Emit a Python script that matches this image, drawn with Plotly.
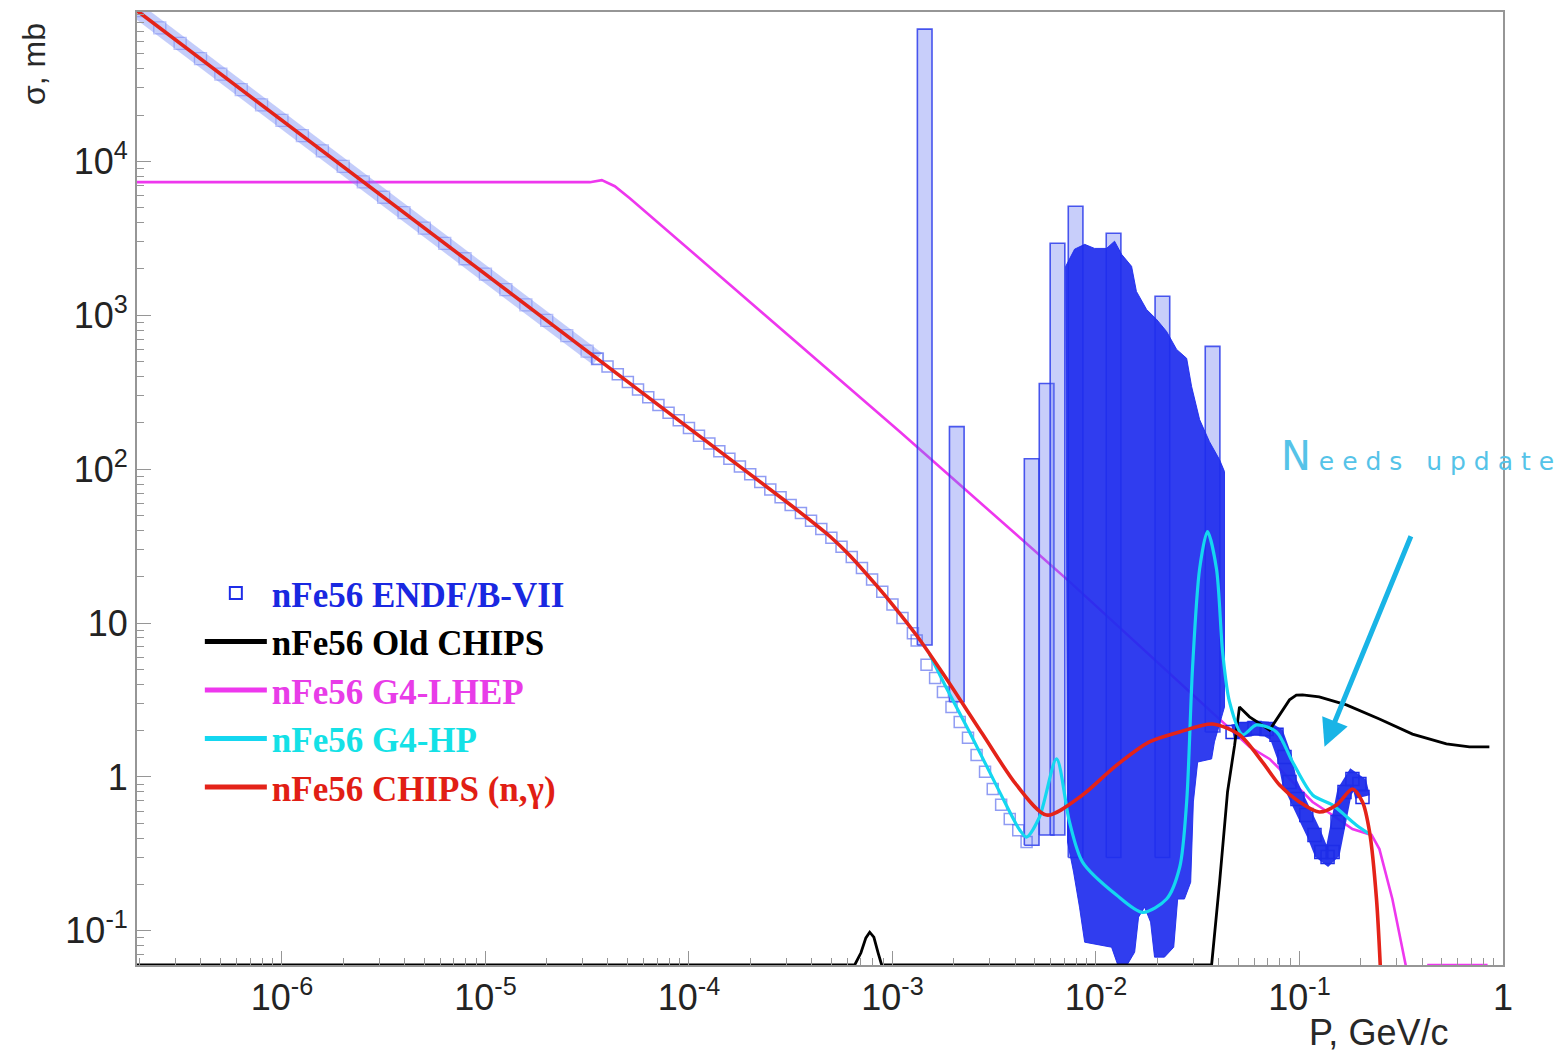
import math
import plotly.graph_objects as go

# ---------------- data ----------------
# momentum P [GeV/c], cross section sigma [mb]

# ENDF/B-VII : smooth 1/v region (dense band of points)
endf_band_p = [1.94e-7, 2.51e-7, 3.16e-7, 3.98e-7, 5.01e-7, 6.31e-7, 7.94e-7, 1.0e-6,
               1.26e-6, 1.58e-6, 2.0e-6, 2.51e-6, 3.16e-6, 3.98e-6, 5.01e-6, 6.31e-6,
               7.94e-6, 1.0e-5, 1.26e-5, 1.58e-5, 2.0e-5, 2.51e-5, 3.16e-5]
endf_band_s = [95400, 73700, 58500, 46500, 36900, 29300, 23300, 18500,
               14700, 11700, 9270, 7370, 5850, 4650, 3690, 2930,
               2330, 1850, 1470, 1170, 927, 737, 585]

# ENDF/B-VII : chain of separate points down to the first minimum
endf_chain_p = [3.55e-5, 3.98e-5, 4.47e-5, 5.01e-5, 5.62e-5, 6.31e-5, 7.08e-5, 7.94e-5,
                8.91e-5, 1.0e-4, 1.12e-4, 1.26e-4, 1.41e-4, 1.58e-4, 1.78e-4, 2.0e-4,
                2.24e-4, 2.51e-4, 2.82e-4, 3.16e-4, 3.55e-4, 3.98e-4, 4.47e-4, 5.01e-4,
                5.62e-4, 6.31e-4, 7.08e-4, 7.94e-4, 8.91e-4, 1.0e-3, 1.12e-3, 1.26e-3,
                1.315e-3, 1.47e-3, 1.62e-3, 1.77e-3, 1.95e-3, 2.14e-3, 2.35e-3, 2.59e-3,
                2.85e-3, 3.11e-3, 3.42e-3, 3.77e-3, 4.15e-3, 4.56e-3]
endf_chain_s = [521, 465, 414, 369, 329, 293, 261, 233,
                208, 185, 165, 147, 131, 117, 104, 92.7,
                82.6, 73.7, 65.6, 58.5, 52.0, 46.2, 40.8, 35.8,
                31.3, 26.9, 22.8, 19.2, 16.0, 13.2, 10.8, 8.6,
                7.7, 5.36, 4.4, 3.57, 2.85, 2.28, 1.8, 1.39,
                1.08, 0.835, 0.66, 0.533, 0.45, 0.378]

# ENDF/B-VII : isolated resonance columns (centre, bottom, top)
col_p = [1.44e-3, 2.07e-3, 4.83e-3, 5.72e-3, 6.47e-3, 7.94e-3, 0.0122, 0.0212, 0.0374]
col_lo = [7.2, 3.08, 0.36, 0.42, 0.42, 0.3, 0.3, 0.3, 1.96]
col_hi = [72400, 189, 117, 360, 2940, 5110, 3410, 1330, 628]

# ENDF/B-VII : envelope of the dense resonance region (upper edge, then lower edge back)
blob_p = [7.1e-3, 7.85e-3, 8.8e-3, 9.84e-3, 0.01127, 0.01234, 0.01336, 0.01496, 0.0158,
          0.01773, 0.01986, 0.02223, 0.0249, 0.0279, 0.0295, 0.0323, 0.0361, 0.0405,
          0.0428, 0.0428, 0.0382, 0.037, 0.0316, 0.0301, 0.0292, 0.0272, 0.0252, 0.0241,
          0.0217, 0.0194, 0.01855, 0.01733, 0.01619, 0.01549, 0.01429, 0.01276, 0.01193,
          8.8e-3, 8.3e-3, 7.76e-3, 7.25e-3]
blob_s = [2080, 2690, 2890, 2720, 2720, 3030, 2490, 2080, 1430,
          1090, 940, 785, 600, 525, 345, 210, 151, 115,
          96.5, 2.85, 1.69, 1.31, 1.25, 0.688, 0.207, 0.161, 0.161, 0.0783,
          0.0675, 0.0675, 0.114, 0.1426, 0.1228, 0.0727, 0.0607, 0.0607, 0.0783,
          0.0844, 0.1426, 0.241, 0.378]

# ENDF/B-VII : band above the resonance region
endf_post_p = [0.0469, 0.0537, 0.0601, 0.0689, 0.0771, 0.0844, 0.0893, 0.0977, 0.108,
               0.1185, 0.128, 0.1374, 0.1455, 0.1538, 0.1664, 0.182, 0.197, 0.204]
endf_post_s = [1.96, 2.05, 2.08, 2.05, 1.88, 1.35, 0.928, 0.719, 0.566,
               0.42, 0.325, 0.302, 0.325, 0.51, 0.8, 0.97, 0.90, 0.74]

# Old CHIPS (0.06 = lower edge of the frame)
black_p = [1.94e-7, 6.52e-4, 7.0e-4, 7.4e-4, 7.73e-4, 8.1e-4, 8.5e-4, 8.85e-4, 0.037,
           0.0405, 0.0443, 0.048, 0.0507, 0.0568, 0.0713, 0.0798, 0.0893, 0.0965, 0.1035,
           0.125, 0.170, 0.247, 0.359, 0.527, 0.684, 0.857]
black_s = [0.06, 0.06, 0.072, 0.09, 0.098, 0.091, 0.072, 0.06, 0.06,
           0.207, 0.8, 1.61, 2.85, 2.46, 2.02, 2.53, 3.17, 3.4, 3.42,
           3.31, 2.94, 2.38, 1.9, 1.64, 1.57, 1.57]

# G4-LHEP
mag_p = [1.94e-7, 3.26e-5, 3.73e-5, 4.32e-5, 5.12e-5, 1.084e-3, 7.41e-3, 0.0568, 0.0713,
         0.116, 0.145, 0.182, 0.226, 0.247, 0.286, 0.336, 0.378, 0.43, 0.84]
mag_s = [7330, 7330, 7550, 6900, 5770, 176, 18.6, 1.57, 1.31,
         0.688, 0.566, 0.459, 0.42, 0.34, 0.161, 0.056, 0.02, 0.06, 0.06]

# G4-HP
cyan_p = [1.52e-3, 1.85e-3, 2.39e-3, 3.36e-3, 4.22e-3, 4.56e-3, 5.28e-3, 6.4e-3, 7.41e-3,
          8.59e-3, 0.01262, 0.01694, 0.02223, 0.0258, 0.0279, 0.0298, 0.0323, 0.0353,
          0.0391, 0.0419, 0.0453, 0.0525, 0.0615, 0.0771, 0.0925, 0.116, 0.145, 0.19, 0.221]
cyan_s = [6.3, 3.74, 1.96, 0.8, 0.452, 0.407, 0.55, 1.31, 0.51,
          0.28, 0.171, 0.132, 0.161, 0.26, 0.69, 5.05, 22.5, 39.3,
          22.5, 6.5, 3.08, 1.88, 2.18, 1.96, 1.25, 0.764, 0.658, 0.488, 0.426]

# CHIPS (n,gamma)
red_p = [1.94e-7, 3.16e-5, 1.0e-4, 3.16e-4, 4.25e-4, 5.0e-4, 6.17e-4, 8.36e-4, 1.0e-3,
         1.315e-3, 1.77e-3, 2.77e-3, 4.07e-3, 5.72e-3, 8.59e-3, 0.0123, 0.0183, 0.0257,
         0.0374, 0.0507, 0.0658, 0.0798, 0.1, 0.125, 0.152, 0.182, 0.204, 0.221, 0.239, 0.25]
red_s = [95400, 585, 185, 58.5, 43.0, 36.0, 27.5, 17.5, 13.2,
         8.3, 4.7, 1.9, 0.887, 0.566, 0.764, 1.16, 1.69, 1.96,
         2.21, 1.88, 1.25, 0.887, 0.688, 0.592, 0.658, 0.835, 0.688, 0.439, 0.161, 0.056]

x_ticks = [1e-6, 1e-5, 1e-4, 1e-3, 1e-2, 1e-1, 1]
x_ticktext = ["10<sup>-6</sup>", "10<sup>-5</sup>", "10<sup>-4</sup>", "10<sup>-3</sup>",
              "10<sup>-2</sup>", "10<sup>-1</sup>", "1"]
y_ticks = [0.1, 1, 10, 100, 1000, 10000]
y_ticktext = ["10<sup>-1</sup>", "1", "10", "10<sup>2</sup>", "10<sup>3</sup>", "10<sup>4</sup>"]

# ---------------- styles ----------------
C_ENDF = "rgb(30,45,232)"
C_MAG = "rgb(238,55,238)"
C_CYAN = "rgb(20,215,240)"
C_RED = "rgb(228,35,25)"
AX_COL = "rgb(150,150,150)"

fig = go.Figure()

# G4-LHEP (drawn first: hidden behind the dense resonance region)
fig.add_trace(go.Scatter(x=mag_p, y=mag_s, mode="lines", line=dict(color=C_MAG, width=2.6),
                         name='<span style="color:rgb(232,60,232)"><b>nFe56 G4-LHEP</b></span>',
                         legendrank=3))

# ENDF resonance columns
hw = 10 ** 0.036
for p, lo, hi in zip(col_p, col_lo, col_hi):
    fig.add_trace(go.Scatter(x=[p / hw, p * hw, p * hw, p / hw, p / hw],
                             y=[lo, lo, hi, hi, lo], mode="lines", fill="toself",
                             fillcolor="rgba(110,125,242,0.38)",
                             line=dict(color="rgba(45,60,235,0.85)", width=1.6),
                             showlegend=False, hoverinfo="skip"))

# ENDF dense resonance region
fig.add_trace(go.Scatter(x=blob_p + blob_p[:1], y=blob_s + blob_s[:1], mode="lines",
                         fill="toself", fillcolor="rgba(30,45,238,0.92)",
                         line=dict(color="rgba(30,45,238,0.92)", width=1),
                         showlegend=False, hoverinfo="skip"))

# ENDF smooth band
fig.add_trace(go.Scatter(x=endf_band_p + endf_chain_p[:1], y=endf_band_s + endf_chain_s[:1],
                         mode="lines+markers",
                         line=dict(color="rgba(125,145,245,0.45)", width=15),
                         marker=dict(symbol="square-open", size=12, color="rgba(80,100,238,0.38)",
                                     line=dict(width=1.3)),
                         showlegend=False, hoverinfo="skip"))
fig.add_trace(go.Scatter(x=endf_chain_p, y=endf_chain_s, mode="markers",
                         marker=dict(symbol="square-open", size=11, color="rgba(70,90,235,0.6)",
                                     line=dict(width=1.5)),
                         showlegend=False))
fig.add_trace(go.Scatter(x=endf_post_p, y=endf_post_s, mode="lines+markers",
                         line=dict(color="rgba(30,45,235,0.95)", width=15),
                         marker=dict(symbol="square-open", size=13, color=C_ENDF,
                                     line=dict(width=1.5)),
                         showlegend=False))
# legend entry for ENDF
fig.add_trace(go.Scatter(x=[None], y=[None], mode="markers",
                         marker=dict(symbol="square-open", size=14, color=C_ENDF,
                                     line=dict(width=2.5)),
                         name='<span style="color:rgb(25,40,225)"><b>nFe56 ENDF/B-VII</b></span>',
                         legendrank=1))

# Old CHIPS
fig.add_trace(go.Scatter(x=black_p, y=black_s, mode="lines", line=dict(color="black", width=2.8),
                         name='<span style="color:black"><b>nFe56 Old CHIPS</b></span>',
                         legendrank=2))
# G4-HP
fig.add_trace(go.Scatter(x=cyan_p, y=cyan_s, mode="lines",
                         line=dict(color=C_CYAN, width=3.2, shape="spline", smoothing=0.8),
                         name='<span style="color:rgb(20,225,230)"><b>nFe56 G4-HP</b></span>',
                         legendrank=4))
# CHIPS (n,gamma)
fig.add_trace(go.Scatter(x=red_p, y=red_s, mode="lines",
                         line=dict(color=C_RED, width=3.6, shape="spline", smoothing=0.8),
                         name='<span style="color:rgb(225,30,20)"><b>nFe56 CHIPS (n,γ)</b></span>',
                         legendrank=5))

# minor ticks (2..9 in each decade)
x_minor = [m * 10 ** d for d in range(-7, 0) for m in range(2, 10)]
y_minor = [m * 10 ** d for d in range(-2, 5) for m in range(2, 10)]

tickfont = dict(family="Liberation Sans, Arial, sans-serif", size=36, color="rgb(35,35,35)")

fig.update_layout(
    width=1557, height=1045,
    margin=dict(l=129, r=62, t=2, b=88),
    paper_bgcolor="white", plot_bgcolor="white",
    showlegend=True,
    legend=dict(x=0.046, y=0.421, xanchor="left", yanchor="top",
                bgcolor="rgba(0,0,0,0)", borderwidth=0,
                font=dict(family="Liberation Serif, Times New Roman, serif", size=35),
                traceorder="normal", itemsizing="constant", itemwidth=62),
    xaxis=dict(type="log", range=[math.log10(1.94e-7), 0], tickmode="array",
               tickvals=x_ticks, ticktext=x_ticktext, ticks="inside", ticklen=14,
               tickcolor=AX_COL, tickwidth=1.2, showline=True, linecolor=AX_COL,
               linewidth=2, mirror=True, showgrid=False, zeroline=False, tickfont=tickfont,
               minor=dict(tickmode="array", tickvals=x_minor, ticks="inside", ticklen=7,
                          tickcolor=AX_COL, tickwidth=1, showgrid=False)),
    yaxis=dict(type="log", range=[math.log10(0.06), math.log10(93500)], tickmode="array",
               tickvals=y_ticks, ticktext=y_ticktext, ticks="inside", ticklen=14,
               tickcolor=AX_COL, tickwidth=1.2, showline=True, linecolor=AX_COL,
               linewidth=2, mirror=True, showgrid=False, zeroline=False, tickfont=tickfont,
               minor=dict(tickmode="array", tickvals=y_minor, ticks="inside", ticklen=7,
                          tickcolor=AX_COL, tickwidth=1, showgrid=False)),
    annotations=[
        dict(text="σ, mb", xref="paper", yref="paper", x=-0.075, y=0.945,
             textangle=-90, showarrow=False, xanchor="center", yanchor="middle",
             font=dict(family="Liberation Sans, Arial, sans-serif", size=32, color="rgb(40,40,40)")),
        dict(text="P, GeV/c", xref="paper", yref="paper", x=0.9085, y=-0.071,
             showarrow=False, xanchor="center", yanchor="middle",
             font=dict(family="Liberation Sans, Arial, sans-serif", size=36, color="rgb(40,40,40)")),
        dict(text='<span style="font-size:40px">N</span>\u00a0e\u00a0e\u00a0d\u00a0s\u00a0\u00a0\u00a0u\u00a0p\u00a0d\u00a0a\u00a0t\u00a0e',
             xref="paper", yref="paper", x=0.836, y=0.5346, xanchor="left", yanchor="middle",
             showarrow=False,
             font=dict(family="DejaVu Sans, sans-serif", size=25, color="rgb(85,195,232)")),
        dict(text="", x=math.log10(0.1327), y=math.log10(1.57), xref="x", yref="y",
             showarrow=True, ax=87, ay=-212, arrowhead=2, arrowsize=1.1, arrowwidth=5,
             arrowcolor="rgb(25,180,230)"),
    ],
)

fig.write_html("out.html")
